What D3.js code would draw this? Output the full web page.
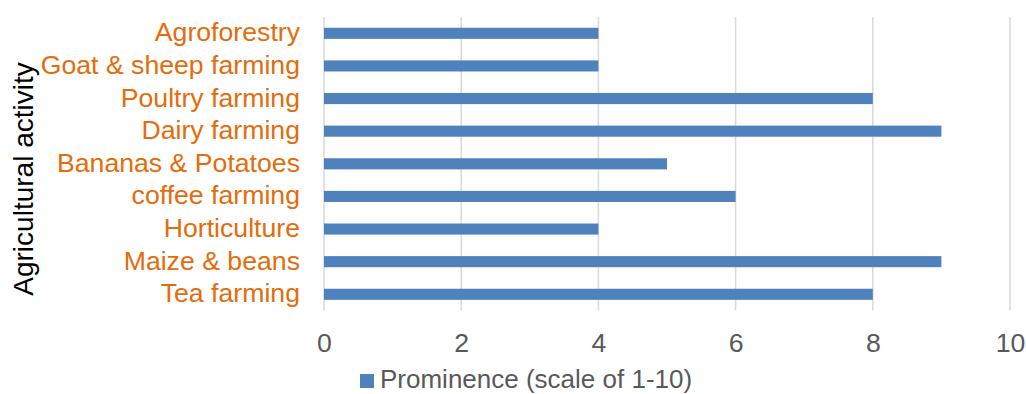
<!DOCTYPE html>
<html>
<head>
<meta charset="utf-8">
<script src="https://cdn.jsdelivr.net/npm/d3@7"></script>
<style>
  html, body { margin: 0; padding: 0; background: #fff; }
  svg { display: block; font-family: "Liberation Sans", Arial, sans-serif; }
</style>
</head>
<body>
<svg id="chart" width="1026" height="394"></svg>
<script>
// Agricultural activities, listed top to bottom
const activities = [
  "Agroforestry",
  "Goat & sheep farming",
  "Poultry farming",
  "Dairy farming",
  "Bananas & Potatoes",
  "coffee farming",
  "Horticulture",
  "Maize & beans",
  "Tea farming"
];
// Prominence score for each activity (scale of 1-10)
const prominence = [4, 4, 8, 9, 5, 6, 4, 9, 8];
const xTicks = [0, 2, 4, 6, 8, 10];
const seriesName = "Prominence (scale of 1-10)";
const axisTitle = "Agricultural activity";

const FONT = "Liberation Sans, Arial, sans-serif";
const svg = d3.select("#chart");
const plot = { left: 324, right: 1010, top: 17, bottom: 310.6 };

const x = d3.scaleLinear().domain([0, 10]).range([plot.left, plot.right]);
const y = d3.scaleBand()
  .domain(activities)
  .range([plot.top, plot.bottom])
  .paddingInner(0.66)
  .paddingOuter(0.33);

// vertical gridlines
svg.append("g")
  .selectAll("line")
  .data(xTicks)
  .join("line")
  .attr("x1", d => x(d)).attr("x2", d => x(d))
  .attr("y1", plot.top).attr("y2", plot.bottom)
  .attr("stroke", "#d9d9d9")
  .attr("stroke-width", 1.5);

// x tick labels
const xAxis = d3.axisBottom(x).tickValues(xTicks).tickSize(0).tickPadding(0);
const gx = svg.append("g").attr("transform", `translate(0,${plot.bottom})`).call(xAxis);
gx.select(".domain").remove();
gx.selectAll("text")
  .attr("dy", null)
  .attr("y", 41.4)
  .attr("fill", "#595959")
  .attr("font-size", 26.67)
  .attr("font-family", FONT);

// bars
const data = activities.map((a, i) => ({ a, v: prominence[i] }));
svg.append("g")
  .selectAll("rect")
  .data(data)
  .join("rect")
  .attr("x", x(0))
  .attr("y", d => y(d.a))
  .attr("width", d => x(d.v) - x(0))
  .attr("height", y.bandwidth())
  .attr("fill", "#4f81bd");

// category labels
const yAxis = d3.axisLeft(y).tickSize(0).tickPadding(0);
const gy = svg.append("g").attr("transform", `translate(300,0)`).call(yAxis);
gy.select(".domain").remove();
gy.selectAll("text")
  .attr("x", 0)
  .attr("dy", "0.3em")
  .attr("fill", "#e46c0a")
  .attr("font-size", 26.67)
  .attr("font-family", FONT);

// axis title
svg.append("text")
  .attr("transform", "translate(33,179) rotate(-90)")
  .attr("text-anchor", "middle")
  .attr("font-size", 28)
  .attr("fill", "#000")
  .text(axisTitle);

// legend
const legend = svg.append("g").attr("transform", "translate(360,374)");
legend.append("rect").attr("width", 14).attr("height", 14).attr("fill", "#4f81bd");
legend.append("text")
  .attr("x", 20).attr("y", 14)
  .attr("font-size", 26)
  .attr("fill", "#595959")
  .text(seriesName);
</script>
</body>
</html>
